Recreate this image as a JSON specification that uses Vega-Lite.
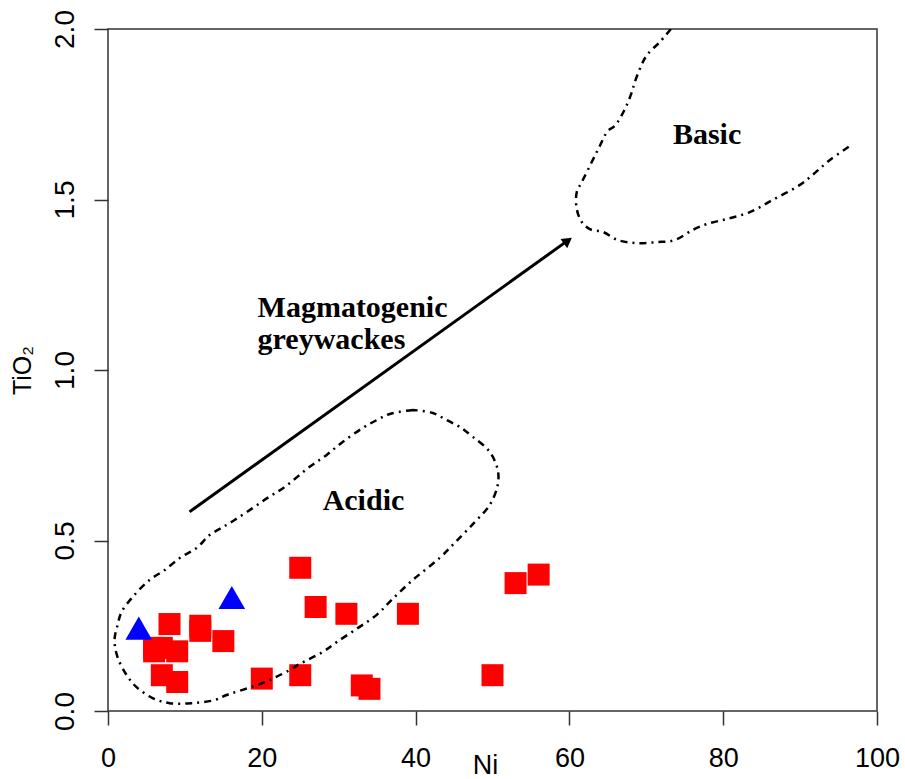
{
  "$schema": "https://vega.github.io/schema/vega-lite/v6.json",
  "width": 769,
  "height": 682,
  "autosize": {"type": "none"},
  "padding": {"left": 108, "top": 29, "right": 28, "bottom": 68},
  "background": "white",
  "config": {
    "view": {"stroke": "#333333", "strokeWidth": 1.5},
    "axis": {
      "grid": false,
      "domain": false,
      "labelFlush": false,
      "labelOverlap": false,
      "tickColor": "#333333",
      "tickWidth": 1.5,
      "tickSize": 14,
      "labelFont": "Liberation Sans",
      "labelFontSize": 27,
      "labelColor": "black",
      "titleFont": "Liberation Sans",
      "titleFontWeight": "normal",
      "titleColor": "black",
      "titleFontSize": 27
    }
  },
  "datasets": {
    "acidic": [
      {"i": 1, "ni": 39.62, "tio2": 0.883},
      {"i": 2, "ni": 36.63, "tio2": 0.871},
      {"i": 3, "ni": 34.94, "tio2": 0.853},
      {"i": 4, "ni": 33.12, "tio2": 0.830},
      {"i": 5, "ni": 30.51, "tio2": 0.789},
      {"i": 6, "ni": 28.43, "tio2": 0.751},
      {"i": 7, "ni": 26.22, "tio2": 0.716},
      {"i": 8, "ni": 22.97, "tio2": 0.657},
      {"i": 9, "ni": 20.75, "tio2": 0.625},
      {"i": 10, "ni": 18.80, "tio2": 0.595},
      {"i": 11, "ni": 16.46, "tio2": 0.560},
      {"i": 12, "ni": 14.77, "tio2": 0.537},
      {"i": 13, "ni": 13.21, "tio2": 0.516},
      {"i": 14, "ni": 11.52, "tio2": 0.478},
      {"i": 15, "ni": 9.56, "tio2": 0.452},
      {"i": 16, "ni": 7.34, "tio2": 0.413},
      {"i": 17, "ni": 5.40, "tio2": 0.384},
      {"i": 18, "ni": 3.19, "tio2": 0.334},
      {"i": 19, "ni": 1.76, "tio2": 0.290},
      {"i": 20, "ni": 1.24, "tio2": 0.252},
      {"i": 21, "ni": 0.85, "tio2": 0.208},
      {"i": 22, "ni": 1.24, "tio2": 0.158},
      {"i": 23, "ni": 2.41, "tio2": 0.106},
      {"i": 24, "ni": 3.71, "tio2": 0.070},
      {"i": 25, "ni": 5.79, "tio2": 0.038},
      {"i": 26, "ni": 8.00, "tio2": 0.023},
      {"i": 27, "ni": 10.87, "tio2": 0.023},
      {"i": 28, "ni": 13.86, "tio2": 0.032},
      {"i": 29, "ni": 15.42, "tio2": 0.047},
      {"i": 30, "ni": 17.50, "tio2": 0.062},
      {"i": 31, "ni": 20.10, "tio2": 0.082},
      {"i": 32, "ni": 23.62, "tio2": 0.120},
      {"i": 33, "ni": 24.92, "tio2": 0.138},
      {"i": 34, "ni": 27.91, "tio2": 0.173},
      {"i": 35, "ni": 29.73, "tio2": 0.202},
      {"i": 36, "ni": 32.47, "tio2": 0.243},
      {"i": 37, "ni": 34.94, "tio2": 0.282},
      {"i": 38, "ni": 36.89, "tio2": 0.326},
      {"i": 39, "ni": 39.62, "tio2": 0.384},
      {"i": 40, "ni": 43.14, "tio2": 0.449},
      {"i": 41, "ni": 45.09, "tio2": 0.493},
      {"i": 42, "ni": 47.69, "tio2": 0.554},
      {"i": 43, "ni": 49.64, "tio2": 0.604},
      {"i": 44, "ni": 50.68, "tio2": 0.663},
      {"i": 45, "ni": 50.68, "tio2": 0.707},
      {"i": 46, "ni": 49.64, "tio2": 0.760},
      {"i": 47, "ni": 47.43, "tio2": 0.804},
      {"i": 48, "ni": 45.74, "tio2": 0.833},
      {"i": 49, "ni": 44.05, "tio2": 0.853},
      {"i": 50, "ni": 42.23, "tio2": 0.874},
      {"i": 51, "ni": 39.62, "tio2": 0.883}
    ],
    "basic": [
      {"i": 1, "ni": 73.2, "tio2": 2.0},
      {"i": 2, "ni": 71.76, "tio2": 1.962},
      {"i": 3, "ni": 70.20, "tio2": 1.927},
      {"i": 4, "ni": 69.55, "tio2": 1.903},
      {"i": 5, "ni": 68.51, "tio2": 1.845},
      {"i": 6, "ni": 68.12, "tio2": 1.815},
      {"i": 7, "ni": 67.21, "tio2": 1.765},
      {"i": 8, "ni": 65.91, "tio2": 1.716},
      {"i": 9, "ni": 64.99, "tio2": 1.701},
      {"i": 10, "ni": 63.95, "tio2": 1.657},
      {"i": 11, "ni": 62.91, "tio2": 1.610},
      {"i": 12, "ni": 61.61, "tio2": 1.551},
      {"i": 13, "ni": 60.96, "tio2": 1.522},
      {"i": 14, "ni": 60.96, "tio2": 1.472},
      {"i": 15, "ni": 61.61, "tio2": 1.434},
      {"i": 16, "ni": 62.65, "tio2": 1.413},
      {"i": 17, "ni": 64.35, "tio2": 1.405},
      {"i": 18, "ni": 66.30, "tio2": 1.381},
      {"i": 19, "ni": 68.77, "tio2": 1.372},
      {"i": 20, "ni": 71.37, "tio2": 1.375},
      {"i": 21, "ni": 73.71, "tio2": 1.381},
      {"i": 22, "ni": 76.06, "tio2": 1.411},
      {"i": 23, "ni": 77.88, "tio2": 1.428},
      {"i": 24, "ni": 80.48, "tio2": 1.443},
      {"i": 25, "ni": 83.47, "tio2": 1.463},
      {"i": 26, "ni": 86.46, "tio2": 1.499},
      {"i": 27, "ni": 89.98, "tio2": 1.543},
      {"i": 28, "ni": 91.93, "tio2": 1.578},
      {"i": 29, "ni": 93.88, "tio2": 1.616},
      {"i": 30, "ni": 96.48, "tio2": 1.657}
    ],
    "arrow": [
      {"i": 1, "ni": 10.6, "tio2": 0.584},
      {"i": 2, "ni": 59.5, "tio2": 1.375}
    ],
    "head": [
      {"ni": 59.8, "tio2": 1.379}
    ],
    "samples": [
      {"group": "A", "ni": 25, "tio2": 0.42},
      {"group": "A", "ni": 27, "tio2": 0.305},
      {"group": "A", "ni": 31, "tio2": 0.285},
      {"group": "A", "ni": 39, "tio2": 0.285},
      {"group": "A", "ni": 53, "tio2": 0.375},
      {"group": "A", "ni": 56, "tio2": 0.40},
      {"group": "A", "ni": 50, "tio2": 0.105},
      {"group": "A", "ni": 25, "tio2": 0.105},
      {"group": "A", "ni": 20, "tio2": 0.095},
      {"group": "A", "ni": 33, "tio2": 0.075},
      {"group": "A", "ni": 34, "tio2": 0.065},
      {"group": "A", "ni": 8, "tio2": 0.255},
      {"group": "A", "ni": 12, "tio2": 0.25},
      {"group": "A", "ni": 12, "tio2": 0.235},
      {"group": "A", "ni": 15, "tio2": 0.205},
      {"group": "A", "ni": 6, "tio2": 0.185},
      {"group": "A", "ni": 7, "tio2": 0.185},
      {"group": "A", "ni": 6, "tio2": 0.175},
      {"group": "A", "ni": 9, "tio2": 0.175},
      {"group": "A", "ni": 7, "tio2": 0.105},
      {"group": "A", "ni": 9, "tio2": 0.085},
      {"group": "B", "ni": 4, "tio2": 0.243},
      {"group": "B", "ni": 16.1, "tio2": 0.333}
    ],
    "labels": [
      {"label": "Basic", "ni": 73.46, "tio2": 1.663},
      {"label": "Magmatogenic", "ni": 19.45, "tio2": 1.155},
      {"label": "greywackes", "ni": 19.45, "tio2": 1.062},
      {"label": "Acidic", "ni": 27.91, "tio2": 0.589}
    ]
  },
  "encoding": {
    "x": {
      "field": "ni",
      "type": "quantitative",
      "scale": {"domain": [0, 100], "nice": false, "zero": false},
      "axis": {
        "values": [0, 20, 40, 60, 80, 100],
        "labelPadding": 20,
        "labelBaseline": "top",
        "title": "Ni",
        "titleX": 377,
        "titleY": 62,
        "titleAlign": "center",
        "titleBaseline": "alphabetic",
        "titleFontSize": 27
      }
    },
    "y": {
      "field": "tio2",
      "type": "quantitative",
      "scale": {"domain": [0, 2], "nice": false, "zero": false},
      "axis": {
        "values": [0, 0.5, 1, 1.5, 2],
        "format": ".1f",
        "labelAngle": 270,
        "labelAlign": "center",
        "labelBaseline": "bottom",
        "labelPadding": 15,
        "labelFontSize": 28,
        "title": "TiO₂",
        "titleX": -86,
        "titleY": 341,
        "titleAngle": 270,
        "titleAlign": "center",
        "titleBaseline": "middle",
        "titleFontSize": 25
      }
    }
  },
  "layer": [
    {
      "data": {"name": "samples"},
      "transform": [{"filter": "datum.group === 'A'"}],
      "mark": {"type": "point", "shape": "square", "filled": true, "color": "#ff0000", "opacity": 1, "size": 484}
    },
    {
      "data": {"name": "samples"},
      "transform": [{"filter": "datum.group === 'B'"}],
      "mark": {"type": "point", "shape": "triangle-up", "filled": true, "color": "#0000ff", "opacity": 1, "size": 710}
    },
    {
      "data": {"name": "acidic"},
      "mark": {"type": "line", "color": "black", "strokeWidth": 2.5, "strokeDash": [7, 5, 2, 5], "interpolate": "catmull-rom", "clip": true},
      "encoding": {"order": {"field": "i", "type": "quantitative"}}
    },
    {
      "data": {"name": "basic"},
      "mark": {"type": "line", "color": "black", "strokeWidth": 2.5, "strokeDash": [7, 5, 2, 5], "interpolate": "catmull-rom", "clip": true},
      "encoding": {"order": {"field": "i", "type": "quantitative"}}
    },
    {
      "data": {"name": "arrow"},
      "mark": {"type": "line", "color": "black", "strokeWidth": 3},
      "encoding": {"order": {"field": "i", "type": "quantitative"}}
    },
    {
      "data": {"name": "head"},
      "mark": {"type": "point", "shape": "triangle-up", "filled": true, "color": "black", "opacity": 1, "size": 130, "angle": 54}
    },
    {
      "data": {"name": "labels"},
      "mark": {"type": "text", "align": "left", "baseline": "alphabetic", "font": "Liberation Serif", "fontWeight": "bold", "fontSize": 30, "color": "black"},
      "encoding": {"text": {"field": "label", "type": "nominal"}}
    }
  ]
}
